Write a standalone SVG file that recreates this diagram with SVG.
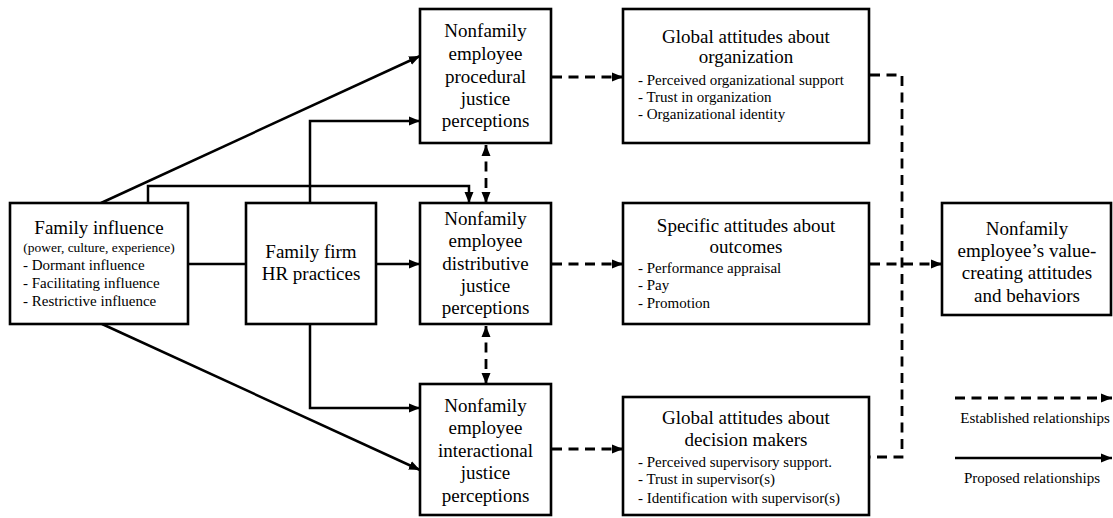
<svg xmlns="http://www.w3.org/2000/svg" width="1113" height="518" viewBox="0 0 1113 518">
  <defs>
    <marker id="arrow" viewBox="0 0 11 10" refX="11" refY="5" markerWidth="11" markerHeight="10" markerUnits="userSpaceOnUse" orient="auto-start-reverse">
      <path d="M0,0.5 L11,5 L0,9.5 z" fill="#000"/>
    </marker>
    <style>
      .box { fill: #fff; stroke: #000; stroke-width: 2.6; }
      .t { font-family: "Liberation Serif", "Times New Roman", serif; fill: #000; }
      .title { font-size: 19px; text-anchor: middle; }
      .item { font-size: 15px; }
      .solid { fill: none; stroke: #000; stroke-width: 2.5; }
      .dash { fill: none; stroke: #000; stroke-width: 2.8; stroke-dasharray: 10 6.5; }
    </style>
  </defs>
  <rect width="1113" height="518" fill="#fff"/>

  <!-- connectors -->
  <g id="connectors">
    <!-- family influence to justice perceptions -->
    <line class="solid" x1="101" y1="203" x2="420" y2="56" marker-end="url(#arrow)"/>
    <line class="solid" x1="102" y1="324" x2="420" y2="470" marker-end="url(#arrow)"/>
    <polyline class="solid" points="148,203 148,186 469,186 469,203" marker-end="url(#arrow)"/>
    <line class="solid" x1="188" y1="264" x2="246" y2="264"/>
    <!-- HR practices to justice perceptions -->
    <line class="solid" x1="376" y1="264" x2="420" y2="264" marker-end="url(#arrow)"/>
    <polyline class="solid" points="310,203 310,121 420,121" marker-end="url(#arrow)"/>
    <polyline class="solid" points="310,324 310,408 420,408" marker-end="url(#arrow)"/>
    <!-- links between justice perceptions -->
    <line class="dash" x1="486" y1="145" x2="486" y2="203" marker-start="url(#arrow)" marker-end="url(#arrow)"/>
    <line class="dash" x1="486" y1="326" x2="486" y2="384" marker-start="url(#arrow)" marker-end="url(#arrow)"/>
    <!-- justice perceptions to attitudes -->
    <line class="dash" x1="552" y1="77" x2="623" y2="77" marker-end="url(#arrow)"/>
    <line class="dash" x1="552" y1="264" x2="623" y2="264" marker-end="url(#arrow)"/>
    <line class="dash" x1="552" y1="449" x2="623" y2="449" marker-end="url(#arrow)"/>
    <!-- attitudes to outcomes -->
    <polyline class="dash" points="870,75 902,75 902,457 870,457"/>
    <line class="dash" x1="870" y1="264" x2="942" y2="264" marker-end="url(#arrow)"/>
  </g>

  <g id="family-influence">
    <rect class="box" x="10" y="203" width="178" height="121"/>
    <text class="t title" x="99" y="234" font-size="19">Family influence</text>
    <text class="t" x="99" y="252" font-size="13.5" text-anchor="middle">(power, culture, experience)</text>
    <text class="t item" x="23" y="270" font-size="15.5">- Dormant influence</text>
    <text class="t item" x="23" y="288" font-size="15.5">- Facilitating influence</text>
    <text class="t item" x="23" y="306" font-size="15.5">- Restrictive influence</text>
  </g>

  <g id="hr-practices">
    <rect class="box" x="246" y="203" width="130" height="121"/>
    <text class="t title" x="311" y="258">Family firm</text>
    <text class="t title" x="311" y="280">HR practices</text>
  </g>

  <g id="procedural-justice">
    <rect class="box" x="420" y="9" width="131" height="134"/>
    <text class="t title" x="485.5" y="37">Nonfamily</text>
    <text class="t title" x="485.5" y="60">employee</text>
    <text class="t title" x="485.5" y="83">procedural</text>
    <text class="t title" x="485.5" y="105">justice</text>
    <text class="t title" x="485.5" y="127">perceptions</text>
  </g>

  <g id="distributive-justice">
    <rect class="box" x="420" y="203" width="131" height="121"/>
    <text class="t title" x="485.5" y="225">Nonfamily</text>
    <text class="t title" x="485.5" y="247">employee</text>
    <text class="t title" x="485.5" y="270">distributive</text>
    <text class="t title" x="485.5" y="292">justice</text>
    <text class="t title" x="485.5" y="314">perceptions</text>
  </g>

  <g id="interactional-justice">
    <rect class="box" x="420" y="384" width="131" height="131"/>
    <text class="t title" x="485.5" y="412">Nonfamily</text>
    <text class="t title" x="485.5" y="434">employee</text>
    <text class="t title" x="485.5" y="457">interactional</text>
    <text class="t title" x="485.5" y="479">justice</text>
    <text class="t title" x="485.5" y="502">perceptions</text>
  </g>

  <g id="attitudes-organization">
    <rect class="box" x="623" y="9" width="246" height="134"/>
    <text class="t title" x="746" y="43">Global attitudes about</text>
    <text class="t title" x="746" y="63">organization</text>
    <text class="t item" x="638" y="85">- Perceived organizational support</text>
    <text class="t item" x="638" y="102">- Trust in organization</text>
    <text class="t item" x="638" y="119">- Organizational identity</text>
  </g>

  <g id="attitudes-outcomes">
    <rect class="box" x="623" y="203" width="246" height="121"/>
    <text class="t title" x="746" y="232">Specific  attitudes about</text>
    <text class="t title" x="746" y="253">outcomes</text>
    <text class="t item" x="638" y="273">- Performance appraisal</text>
    <text class="t item" x="638" y="290">- Pay</text>
    <text class="t item" x="638" y="308">- Promotion</text>
  </g>

  <g id="attitudes-decision-makers">
    <rect class="box" x="623" y="397" width="246" height="118"/>
    <text class="t title" x="746" y="424">Global attitudes about</text>
    <text class="t title" x="746" y="446">decision makers</text>
    <text class="t item" x="638" y="467">- Perceived supervisory support.</text>
    <text class="t item" x="638" y="484">- Trust in supervisor(s)</text>
    <text class="t item" x="638" y="503">- Identification with supervisor(s)</text>
  </g>

  <g id="value-creating-outcomes">
    <rect class="box" x="942" y="203" width="169" height="112"/>
    <text class="t title" x="1027" y="235">Nonfamily</text>
    <text class="t title" x="1027" y="257">employee’s value-</text>
    <text class="t title" x="1027" y="279">creating attitudes</text>
    <text class="t title" x="1027" y="302">and behaviors</text>
  </g>

  <g id="legend">
    <line class="dash" x1="955" y1="398" x2="1112" y2="398" marker-end="url(#arrow)"/>
    <text class="t" x="1035" y="423" font-size="15" text-anchor="middle">Established relationships</text>
    <line class="solid" x1="955" y1="458" x2="1112" y2="458" stroke-width="2.8" marker-end="url(#arrow)"/>
    <text class="t" x="1032" y="483" font-size="15" text-anchor="middle">Proposed relationships</text>
  </g>
</svg>
